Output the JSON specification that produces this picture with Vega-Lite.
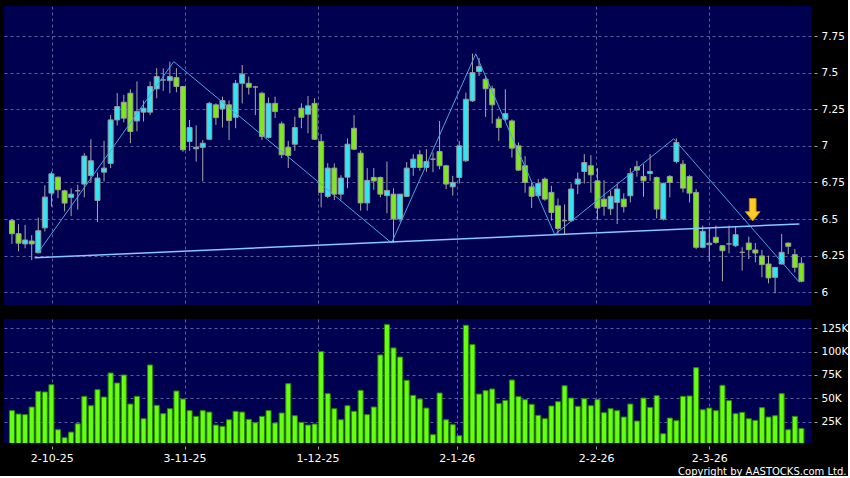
{
  "$schema": "https://vega.github.io/schema/vega-lite/v6.json",
  "background": "#000000",
  "padding": {"left": 4, "top": 6, "right": 0, "bottom": 0},
  "spacing": 14,
  "config": {
    "view": {"fill": "#000050", "stroke": null},
    "axis": {"labelColor": "#ffffff", "labelFont": "DejaVu Sans", "gridColor": "#5a6299", "gridDash": [3, 3], "gridWidth": 1, "tickColor": "#a0a0a0", "domain": false, "title": null}
  },
  "datasets": {
    "bars": [
      {"i":0,"o":6.49,"h":6.5,"l":6.33,"c":6.4,"v":36800},
      {"i":1,"o":6.4,"h":6.465,"l":6.28,"c":6.335,"v":33200},
      {"i":2,"o":6.33,"h":6.46,"l":6.3,"c":6.357,"v":32500},
      {"i":3,"o":6.35,"h":6.39,"l":6.22,"c":6.33,"v":40700},
      {"i":4,"o":6.27,"h":6.51,"l":6.265,"c":6.42,"v":57500},
      {"i":5,"o":6.44,"h":6.73,"l":6.415,"c":6.65,"v":56800},
      {"i":6,"o":6.677,"h":6.825,"l":6.585,"c":6.809,"v":64600},
      {"i":7,"o":6.786,"h":6.79,"l":6.643,"c":6.7,"v":16400},
      {"i":8,"o":6.693,"h":6.7,"l":6.552,"c":6.609,"v":7900},
      {"i":9,"o":6.648,"h":6.71,"l":6.52,"c":6.67,"v":13900},
      {"i":10,"o":6.693,"h":6.734,"l":6.564,"c":6.693,"v":22800},
      {"i":11,"o":6.739,"h":6.95,"l":6.648,"c":6.93,"v":52100},
      {"i":12,"o":6.797,"h":7.045,"l":6.75,"c":6.898,"v":42100},
      {"i":13,"o":6.627,"h":6.818,"l":6.48,"c":6.78,"v":59300},
      {"i":14,"o":6.82,"h":7.034,"l":6.757,"c":6.848,"v":51400},
      {"i":15,"o":6.88,"h":7.21,"l":6.848,"c":7.177,"v":77100},
      {"i":16,"o":7.177,"h":7.36,"l":7.14,"c":7.268,"v":66400},
      {"i":17,"o":7.298,"h":7.348,"l":7.16,"c":7.189,"v":75000},
      {"i":18,"o":7.359,"h":7.386,"l":7.018,"c":7.098,"v":43900},
      {"i":19,"o":7.17,"h":7.44,"l":7.1,"c":7.234,"v":52100},
      {"i":20,"o":7.23,"h":7.31,"l":7.166,"c":7.257,"v":28200},
      {"i":21,"o":7.23,"h":7.44,"l":7.21,"c":7.405,"v":85700},
      {"i":22,"o":7.389,"h":7.53,"l":7.325,"c":7.473,"v":42500},
      {"i":23,"o":7.45,"h":7.53,"l":7.375,"c":7.45,"v":33600},
      {"i":24,"o":7.445,"h":7.575,"l":7.36,"c":7.473,"v":38900},
      {"i":25,"o":7.466,"h":7.53,"l":7.366,"c":7.405,"v":57800},
      {"i":26,"o":7.405,"h":7.41,"l":6.96,"c":6.973,"v":49300},
      {"i":27,"o":7.03,"h":7.177,"l":6.966,"c":7.125,"v":36800},
      {"i":28,"o":6.98,"h":7.14,"l":6.893,"c":6.99,"v":30700},
      {"i":29,"o":6.99,"h":7.04,"l":6.757,"c":7.018,"v":36800},
      {"i":30,"o":7.045,"h":7.3,"l":7.04,"c":7.29,"v":35300},
      {"i":31,"o":7.28,"h":7.29,"l":7.143,"c":7.193,"v":21400},
      {"i":32,"o":7.252,"h":7.336,"l":7.125,"c":7.309,"v":20000},
      {"i":33,"o":7.28,"h":7.31,"l":7.04,"c":7.173,"v":27100},
      {"i":34,"o":7.195,"h":7.45,"l":7.12,"c":7.427,"v":36100},
      {"i":35,"o":7.427,"h":7.552,"l":7.29,"c":7.49,"v":35300},
      {"i":36,"o":7.427,"h":7.473,"l":7.35,"c":7.4,"v":27500},
      {"i":37,"o":7.402,"h":7.41,"l":7.21,"c":7.402,"v":23900},
      {"i":38,"o":7.359,"h":7.37,"l":7.04,"c":7.064,"v":30700},
      {"i":39,"o":7.057,"h":7.33,"l":7.05,"c":7.29,"v":36800},
      {"i":40,"o":7.29,"h":7.336,"l":7.19,"c":7.234,"v":23600},
      {"i":41,"o":7.15,"h":7.166,"l":6.916,"c":6.939,"v":34300},
      {"i":42,"o":6.99,"h":7.034,"l":6.848,"c":6.934,"v":65700},
      {"i":43,"o":7.011,"h":7.2,"l":6.966,"c":7.125,"v":31400},
      {"i":44,"o":7.257,"h":7.29,"l":7.12,"c":7.195,"v":24300},
      {"i":45,"o":7.216,"h":7.34,"l":7.086,"c":7.273,"v":21400},
      {"i":46,"o":7.29,"h":7.325,"l":7.04,"c":7.045,"v":22500},
      {"i":47,"o":7.03,"h":7.08,"l":6.58,"c":6.682,"v":100000},
      {"i":48,"o":6.655,"h":6.882,"l":6.643,"c":6.848,"v":55000},
      {"i":49,"o":6.848,"h":6.88,"l":6.63,"c":6.67,"v":38900},
      {"i":50,"o":6.67,"h":6.8,"l":6.632,"c":6.78,"v":27100},
      {"i":51,"o":6.786,"h":7.05,"l":6.71,"c":7.011,"v":42100},
      {"i":52,"o":7.12,"h":7.21,"l":6.97,"c":6.977,"v":36100},
      {"i":53,"o":6.95,"h":6.968,"l":6.557,"c":6.61,"v":58500},
      {"i":54,"o":6.61,"h":6.848,"l":6.557,"c":6.764,"v":32500},
      {"i":55,"o":6.784,"h":6.848,"l":6.7,"c":6.76,"v":40700},
      {"i":56,"o":6.784,"h":6.79,"l":6.648,"c":6.67,"v":96400},
      {"i":57,"o":6.66,"h":6.893,"l":6.54,"c":6.695,"v":128900},
      {"i":58,"o":6.67,"h":6.71,"l":6.336,"c":6.5,"v":103900},
      {"i":59,"o":6.5,"h":6.67,"l":6.48,"c":6.67,"v":94200},
      {"i":60,"o":6.655,"h":6.889,"l":6.65,"c":6.848,"v":69300},
      {"i":61,"o":6.852,"h":6.943,"l":6.795,"c":6.909,"v":53200},
      {"i":62,"o":6.939,"h":6.97,"l":6.83,"c":6.852,"v":49300},
      {"i":63,"o":6.852,"h":6.977,"l":6.823,"c":6.893,"v":39600},
      {"i":64,"o":6.909,"h":6.955,"l":6.82,"c":6.909,"v":11100},
      {"i":65,"o":6.961,"h":7.17,"l":6.84,"c":6.864,"v":55700},
      {"i":66,"o":6.864,"h":6.87,"l":6.705,"c":6.739,"v":27100},
      {"i":67,"o":6.72,"h":6.795,"l":6.66,"c":6.75,"v":21800},
      {"i":68,"o":6.784,"h":7.034,"l":6.743,"c":7.0,"v":10000},
      {"i":69,"o":6.898,"h":7.364,"l":6.89,"c":7.318,"v":128200},
      {"i":70,"o":7.307,"h":7.63,"l":7.3,"c":7.5,"v":107500},
      {"i":71,"o":7.507,"h":7.6,"l":7.477,"c":7.541,"v":54600},
      {"i":72,"o":7.455,"h":7.478,"l":7.198,"c":7.39,"v":58200},
      {"i":73,"o":7.39,"h":7.41,"l":7.152,"c":7.28,"v":60000},
      {"i":74,"o":7.182,"h":7.2,"l":7.034,"c":7.125,"v":44300},
      {"i":75,"o":7.182,"h":7.386,"l":7.17,"c":7.22,"v":47800},
      {"i":76,"o":7.17,"h":7.18,"l":6.92,"c":6.984,"v":69600},
      {"i":77,"o":7.0,"h":7.023,"l":6.83,"c":6.834,"v":51800},
      {"i":78,"o":6.864,"h":6.93,"l":6.68,"c":6.75,"v":48600},
      {"i":79,"o":6.72,"h":6.75,"l":6.575,"c":6.655,"v":43600},
      {"i":80,"o":6.66,"h":6.773,"l":6.65,"c":6.743,"v":31800},
      {"i":81,"o":6.773,"h":6.784,"l":6.625,"c":6.636,"v":28200},
      {"i":82,"o":6.682,"h":6.727,"l":6.489,"c":6.545,"v":41800},
      {"i":83,"o":6.59,"h":6.64,"l":6.398,"c":6.436,"v":46400},
      {"i":84,"o":6.489,"h":6.6,"l":6.395,"c":6.489,"v":63500},
      {"i":85,"o":6.489,"h":6.743,"l":6.48,"c":6.705,"v":50300},
      {"i":86,"o":6.739,"h":6.818,"l":6.67,"c":6.773,"v":41400},
      {"i":87,"o":6.825,"h":6.943,"l":6.743,"c":6.886,"v":49600},
      {"i":88,"o":6.864,"h":6.936,"l":6.68,"c":6.802,"v":42100},
      {"i":89,"o":6.761,"h":6.848,"l":6.493,"c":6.575,"v":48600},
      {"i":90,"o":6.636,"h":6.766,"l":6.523,"c":6.586,"v":34600},
      {"i":91,"o":6.57,"h":6.693,"l":6.527,"c":6.655,"v":38900},
      {"i":92,"o":6.614,"h":6.739,"l":6.466,"c":6.705,"v":36800},
      {"i":93,"o":6.636,"h":6.675,"l":6.545,"c":6.584,"v":30000},
      {"i":94,"o":6.659,"h":6.848,"l":6.614,"c":6.811,"v":43900},
      {"i":95,"o":6.857,"h":6.898,"l":6.789,"c":6.834,"v":25700},
      {"i":96,"o":6.791,"h":6.875,"l":6.652,"c":6.761,"v":50300},
      {"i":97,"o":6.811,"h":6.943,"l":6.761,"c":6.825,"v":40300},
      {"i":98,"o":6.784,"h":6.79,"l":6.505,"c":6.568,"v":52800},
      {"i":99,"o":6.5,"h":6.75,"l":6.49,"c":6.743,"v":12100},
      {"i":100,"o":6.791,"h":6.8,"l":6.648,"c":6.75,"v":28900},
      {"i":101,"o":6.893,"h":7.05,"l":6.88,"c":7.023,"v":26100},
      {"i":102,"o":6.875,"h":6.902,"l":6.682,"c":6.711,"v":52100},
      {"i":103,"o":6.791,"h":6.8,"l":6.614,"c":6.677,"v":52500},
      {"i":104,"o":6.682,"h":6.705,"l":6.295,"c":6.307,"v":82800},
      {"i":105,"o":6.307,"h":6.455,"l":6.3,"c":6.416,"v":37800},
      {"i":106,"o":6.325,"h":6.443,"l":6.211,"c":6.335,"v":39600},
      {"i":107,"o":6.375,"h":6.455,"l":6.33,"c":6.34,"v":36800},
      {"i":108,"o":6.318,"h":6.32,"l":6.075,"c":6.284,"v":63900},
      {"i":109,"o":6.33,"h":6.455,"l":6.266,"c":6.33,"v":47500},
      {"i":110,"o":6.318,"h":6.448,"l":6.31,"c":6.393,"v":33600},
      {"i":111,"o":6.273,"h":6.307,"l":6.148,"c":6.273,"v":35000},
      {"i":112,"o":6.336,"h":6.38,"l":6.227,"c":6.291,"v":28200},
      {"i":113,"o":6.289,"h":6.336,"l":6.205,"c":6.268,"v":26400},
      {"i":114,"o":6.248,"h":6.289,"l":6.102,"c":6.189,"v":40000},
      {"i":115,"o":6.193,"h":6.25,"l":6.061,"c":6.098,"v":30000},
      {"i":116,"o":6.102,"h":6.17,"l":5.993,"c":6.17,"v":31400},
      {"i":117,"o":6.193,"h":6.398,"l":6.19,"c":6.273,"v":55000},
      {"i":118,"o":6.336,"h":6.34,"l":6.261,"c":6.314,"v":16400},
      {"i":119,"o":6.257,"h":6.295,"l":6.136,"c":6.17,"v":30700},
      {"i":120,"o":6.198,"h":6.239,"l":6.068,"c":6.075,"v":17800}
    ],
    "zigzag": [
      {"x":3.95,"p":6.269},
      {"x":24.6,"p":7.575},
      {"x":57.7,"p":6.337},
      {"x":70.5,"p":7.628},
      {"x":82.5,"p":6.394},
      {"x":100.6,"p":7.048},
      {"x":119.7,"p":6.068}
    ],
    "support": [
      {"x":3.45,"p":6.235},
      {"x":119.7,"p":6.467}
    ],
    "signal": [
      {"x":112.6,"p":6.5635}
    ]
  },
  "vconcat": [
    {
      "width": 807,
      "height": 299,
      "layer": [
        {
          "data": {"name": "bars"},
          "mark": {"type": "rule", "color": "#a8a8a8", "strokeWidth": 1},
          "encoding": {
            "x": {"field": "i", "type": "quantitative", "scale": {"domain": [-0.45, 120.7], "nice": false, "zero": false},
                  "axis": {"values": [6.05, 26.24, 46.45, 67.62, 88.8, 105.98], "grid": true, "labels": false, "ticks": false, "domain": false}},
            "y": {"field": "l", "type": "quantitative", "scale": {"domain": [5.913, 7.955], "nice": false, "zero": false},
                  "axis": {"orient": "right", "values": [6, 6.25, 6.5, 6.75, 7, 7.25, 7.5, 7.75], "labelExpr": "'' + datum.value", "offset": 3, "tickSize": 3, "labelPadding": 4, "labelFontSize": 10.5, "grid": true}},
            "y2": {"field": "h"}
          }
        },
        {
          "data": {"name": "bars"},
          "mark": {"type": "bar", "width": 5, "stroke": "#9a9a9a", "strokeWidth": 1},
          "encoding": {
            "x": {"field": "i", "type": "quantitative"},
            "y": {"field": "o", "type": "quantitative"},
            "y2": {"field": "c"},
            "color": {"condition": [{"test": "datum.c > datum.o", "value": "#33e5f2"}, {"test": "datum.c < datum.o", "value": "#7ee81e"}], "value": "#b0b0b0"}
          }
        },
        {
          "data": {"name": "zigzag"},
          "mark": {"type": "line", "color": "#4aa6e6", "strokeWidth": 1},
          "encoding": {
            "x": {"field": "x", "type": "quantitative"},
            "y": {"field": "p", "type": "quantitative"}
          }
        },
        {
          "data": {"name": "support"},
          "mark": {"type": "line", "color": "#86c8ff", "strokeWidth": 1.5},
          "encoding": {
            "x": {"field": "x", "type": "quantitative"},
            "y": {"field": "p", "type": "quantitative"}
          }
        },
        {
          "data": {"name": "signal"},
          "mark": {"type": "point", "shape": "M-0.3,-1L0.3,-1L0.3,0.17L0.66,0.17L0,1L-0.66,0.17L-0.3,0.17Z", "size": 500, "filled": true, "fill": "#ffcc22", "stroke": "#c98a00", "strokeWidth": 1, "opacity": 1},
          "encoding": {
            "x": {"field": "x", "type": "quantitative"},
            "y": {"field": "p", "type": "quantitative"}
          }
        }
      ]
    },
    {
      "width": 807,
      "height": 124,
      "data": {"name": "bars"},
      "mark": {"type": "bar", "width": 5, "fill": "#66ff11", "stroke": "#2e8a00", "strokeWidth": 1, "clip": true},
      "encoding": {
        "x": {"field": "i", "type": "quantitative", "scale": {"domain": [-0.45, 120.7], "nice": false, "zero": false},
              "axis": {"values": [6.05, 26.24, 46.45, 67.62, 88.8, 105.98],
                       "labelExpr": "datum.value < 16 ? '2-10-25' : datum.value < 36 ? '3-11-25' : datum.value < 57 ? '1-12-25' : datum.value < 78 ? '2-1-26' : datum.value < 97 ? '2-2-26' : '2-3-26'",
                       "grid": true, "ticks": true, "tickSize": 3, "offset": 3, "labelPadding": 3, "labelFontSize": 11,
                       "title": "Copyright by AASTOCKS.com Ltd.", "titleColor": "#ffffff", "titleFont": "DejaVu Sans", "titleFontSize": 10, "titleFontWeight": "normal",
                       "titleX": 842, "titleY": 28, "titleAlign": "right", "titleBaseline": "alphabetic", "titleAnchor": null}},
        "y": {"field": "v", "type": "quantitative", "scale": {"domain": [2200, 134900], "nice": false, "zero": false},
              "axis": {"orient": "right", "values": [25000, 50000, 75000, 100000, 125000], "labelExpr": "(datum.value / 1000) + 'K'", "offset": 3, "tickSize": 3, "labelPadding": 4, "labelFontSize": 10.5, "grid": true}}
      }
    }
  ]
}
